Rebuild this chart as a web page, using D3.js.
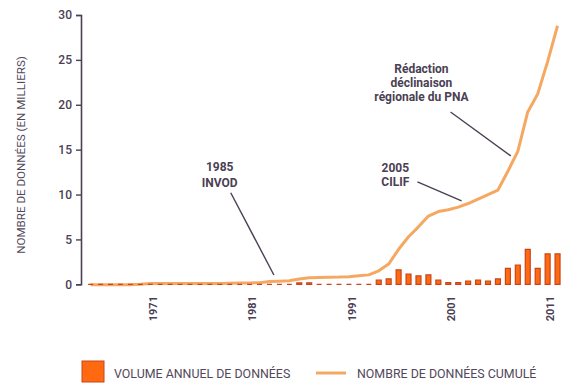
<!DOCTYPE html>
<html><head><meta charset="utf-8">
<script src="https://cdn.jsdelivr.net/npm/d3@7"></script>
<style>body{margin:0;background:#fff}svg{display:block}</style>
</head><body>
<svg id="c" width="577" height="392"></svg>
<script>
// ---- data ----
const years = d3.range(1965, 2013);
const annualVolume = [
  0,0,0,0,0,0,            // 1965-1970
  0,0,0,0,0,0,0,0,0,      // 1971-1979
  0,0,0,                  // 1980-1982
  0,0,0,0.15,0.15,0,0,0,0,0, // 1983-1992
  0,0.48,0.6,1.6,1.15,0.93,1.04,0.48,0.18,0.18, // 1993-2002
  0.37,0.48,0.37,0.6,1.78,2.15,3.9,1.78,3.38,3.38 // 2003-2012
];
const cumulative = [
  -0.05,-0.05,-0.05,-0.05,-0.05,0,
  0.1,0.1,0.1,0.1,0.1,0.1,0.1,0.1,0.12,
  0.15,0.15,0.18,
  0.3,0.35,0.4,0.6,0.72,0.75,0.78,0.8,0.85,0.95,
  1.05,1.5,2.25,3.9,5.3,6.4,7.6,8.1,8.3,8.6,
  9.0,9.5,10.0,10.5,12.6,14.8,19.2,21.2,24.8,28.8
];
const yTicks = [0,5,10,15,20,25,30];
const xTickYears = [1971,1981,1991,2001,2011];
const yTitle = "NOMBRE DE DONNÉES (EN MILLIERS)";
const legendLabels = ["VOLUME ANNUEL DE DONNÉES", "NOMBRE DE DONNÉES CUMULÉ"];
const annotations = [
  {lines:["1985","INVOD"], tx:1978.1, ty:[170.7,186.7], from:[1979.2,10.2], to:[1983.5,1.04]},
  {lines:["2005","CILIF"], tx:1995.6, ty:[171.7,186], from:[1997.8,11.4], to:[2002.2,9.3]},
  {lines:["Rédaction","déclinaison","régionale du PNA"], tx:1998.2, ty:[72.7,86.7,100.7], from:[2001.1,19.2], to:[2007.1,14.3]}
];

// ---- chart ----
const svg = d3.select("#c");
const x = d3.scaleBand().domain(years).range([83.2, 565]).padding(0.5);
const xc = yr => 88.2 + (yr - 1965) * (565 - 83.2) / years.length; // continuous position for annotations
const y = d3.scaleLinear().domain([0, 30]).range([284.3, 15]);
const axisCol = "#4b4053";
const font = "Roboto, 'DejaVu Sans', sans-serif";

// y axis
const yAxis = svg.append("g").attr("transform", "translate(81,0)")
  .call(d3.axisLeft(y).tickValues(yTicks).tickSize(5).tickPadding(4));
yAxis.select(".domain").attr("stroke", axisCol).attr("stroke-width", 1.6);
yAxis.selectAll(".tick line").attr("stroke", axisCol).attr("stroke-width", 1.4);
yAxis.selectAll(".tick text").attr("fill", "#4b4053").attr("font-family", font)
  .attr("font-size", 12).attr("font-weight", 500);

// y title
svg.append("text").attr("transform", "translate(24.5,155) rotate(-90)")
  .attr("text-anchor", "middle").attr("font-family", font).attr("font-size", 11.6)
  .attr("fill", "#52485a").text(yTitle);

// x axis
const xAxis = svg.append("g").attr("transform", "translate(0,291)")
  .call(d3.axisBottom(x).tickValues(xTickYears).tickSize(0).tickPadding(0));
xAxis.select(".domain").remove();
xAxis.selectAll(".tick text")
  .attr("transform", "rotate(-90)").attr("text-anchor", "end")
  .attr("x", -5).attr("y", 0).attr("dy", "0.62em")
  .attr("fill", "#4b4053").attr("font-family", font).attr("font-size", 11).attr("font-weight", 700);

// cumulative line
const line = d3.line().x((d, i) => x(years[i]) + x.bandwidth() / 2).y(d => y(d));
svg.append("path").datum(cumulative).attr("d", line)
  .attr("fill", "none").attr("stroke", "#f5a861").attr("stroke-width", 3).attr("stroke-linejoin", "round");

// bars as paths (zero values still show as short strokes)
svg.append("g").selectAll("path").data(annualVolume).join("path")
  .attr("d", (d, i) => {
    const x0 = x(years[i]), w = x.bandwidth(), y0 = y(0), y1 = y(d);
    return `M${x0},${y0}V${y1}H${x0 + w}V${y0}Z`;
  })
  .attr("fill", "#ff6a10").attr("stroke", "#c9441a").attr("stroke-width", 1.2);

// annotations
annotations.forEach(a => {
  svg.append("line")
    .attr("x1", xc(a.from[0])).attr("y1", y(a.from[1]))
    .attr("x2", xc(a.to[0])).attr("y2", y(a.to[1]))
    .attr("stroke", "#4b4053").attr("stroke-width", 1.4);
  a.lines.forEach((t, k) => {
    svg.append("text").attr("x", xc(a.tx)).attr("y", a.ty[k])
      .attr("text-anchor", "middle").attr("font-family", font).attr("font-size", 12)
      .attr("font-weight", 700).attr("fill", "#4b4053").text(t);
  });
});

// legend
const lg = svg.append("g");
lg.append("rect").attr("x", 82).attr("y", 361).attr("width", 22).attr("height", 21)
  .attr("fill", "#ff6a10").attr("stroke", "#c9441a").attr("stroke-width", 1);
lg.append("text").attr("x", 114).attr("y", 377.5).attr("font-family", font).attr("font-size", 12.4)
  .attr("fill", "#52485a").text(legendLabels[0]);
lg.append("line").attr("x1", 316).attr("x2", 346).attr("y1", 373).attr("y2", 373)
  .attr("stroke", "#f5a861").attr("stroke-width", 3);
lg.append("text").attr("x", 357).attr("y", 377.5).attr("font-family", font).attr("font-size", 12.4)
  .attr("fill", "#52485a").text(legendLabels[1]);
</script>
</body></html>
